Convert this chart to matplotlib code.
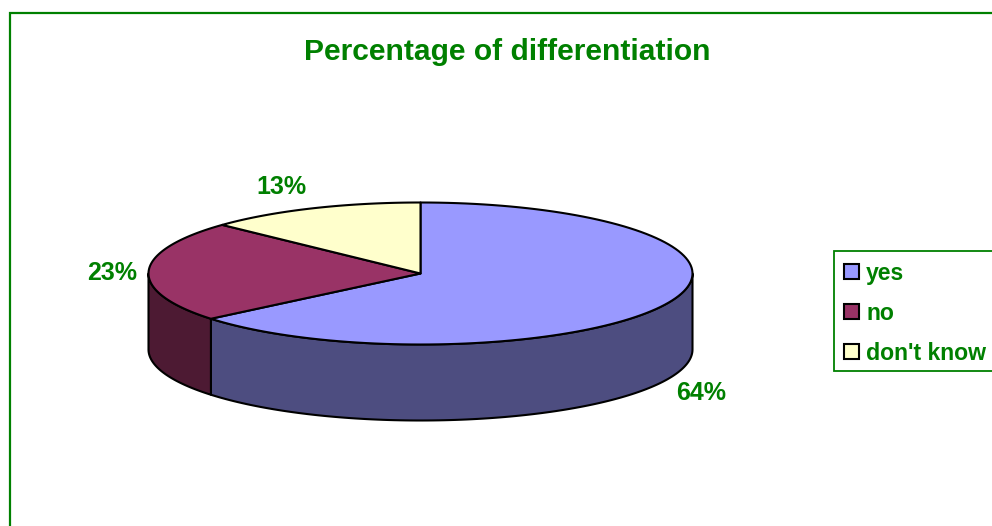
import numpy as np
import matplotlib
matplotlib.use('Agg')
import matplotlib.pyplot as plt
from matplotlib.patches import Polygon, Rectangle

plt.rcParams['font.family'] = ['Liberation Sans', 'DejaVu Sans']

# data
categories = ['yes', 'no', "don't know"]
values = [64, 23, 13]
pct_labels = ['64%', '23%', '13%']
top_colors = ['#9999ff', '#993366', '#ffffcc']
side_colors = ['#4d4d80', '#4d1a33', '#808066']
title = 'Percentage of differentiation'

GREEN = '#008000'
cx, cy = 420.5, 273.5
rx, ry = 272, 71
depth = 76

fig = plt.figure(figsize=(9.92, 5.26), dpi=100)
ax = fig.add_axes([0, 0, 1, 1])
ax.set_xlim(0, 992)
ax.set_ylim(526, 0)
ax.axis('off')


def rim(a0, a1, n=120):
    # angles in degrees clockwise from 12 o'clock, pixel coords
    t = np.radians(np.linspace(a0, a1, n))
    return np.column_stack([cx + rx * np.sin(t), cy - ry * np.cos(t)])


# outer frame runs off the right and bottom of the picture
ax.plot([9.5, 9.5, 1000], [530, 12.5, 12.5], color=GREEN, lw=1.6, solid_joinstyle='miter')

angles = np.concatenate([[0], np.cumsum(values) / np.sum(values) * 360])

# side walls, only the front half (90 to 270 deg) shows
for i in range(len(values)):
    a0, a1 = max(angles[i], 90), min(angles[i + 1], 270)
    if a1 <= a0:
        continue
    edge = rim(a0, a1)
    wall = np.vstack([edge, edge[::-1] + [0, depth]])
    ax.add_patch(Polygon(wall, closed=True, fc=side_colors[i], ec='black', lw=1.5, joinstyle='round', zorder=2))

# top face
for i in range(len(values)):
    edge = rim(angles[i], angles[i + 1])
    face = np.vstack([[cx, cy], edge])
    ax.add_patch(Polygon(face, closed=True, fc=top_colors[i], ec='black', lw=1.5, joinstyle='round', zorder=3))

# labels
ax.text(507.5, 60, title, color=GREEN, fontsize=21.6, fontweight='bold', ha='center', va='baseline')
label_pos = [(701, 399.5), (112, 280.5), (281, 194.5)]
for s, (x, y) in zip(pct_labels, label_pos):
    ax.text(x, y, s, color=GREEN, fontsize=18, fontweight='bold', ha='center', va='baseline')

# legend
ax.add_patch(Rectangle((833.5, 250.5), 170, 120, fc='white', ec=GREEN, lw=1.3, zorder=1))
swatch_y = [271, 311.5, 351.5]
text_y = [280, 320.5, 360.5]
for c, col, sy, ty in zip(categories, top_colors, swatch_y, text_y):
    ax.add_patch(Rectangle((844, sy - 7.5), 15, 15, fc=col, ec='black', lw=1.5, zorder=3))
    ax.text(866, ty, c, color=GREEN, fontsize=16.6, fontweight='bold', ha='left', va='baseline')

fig.savefig('out.png', dpi=100)
